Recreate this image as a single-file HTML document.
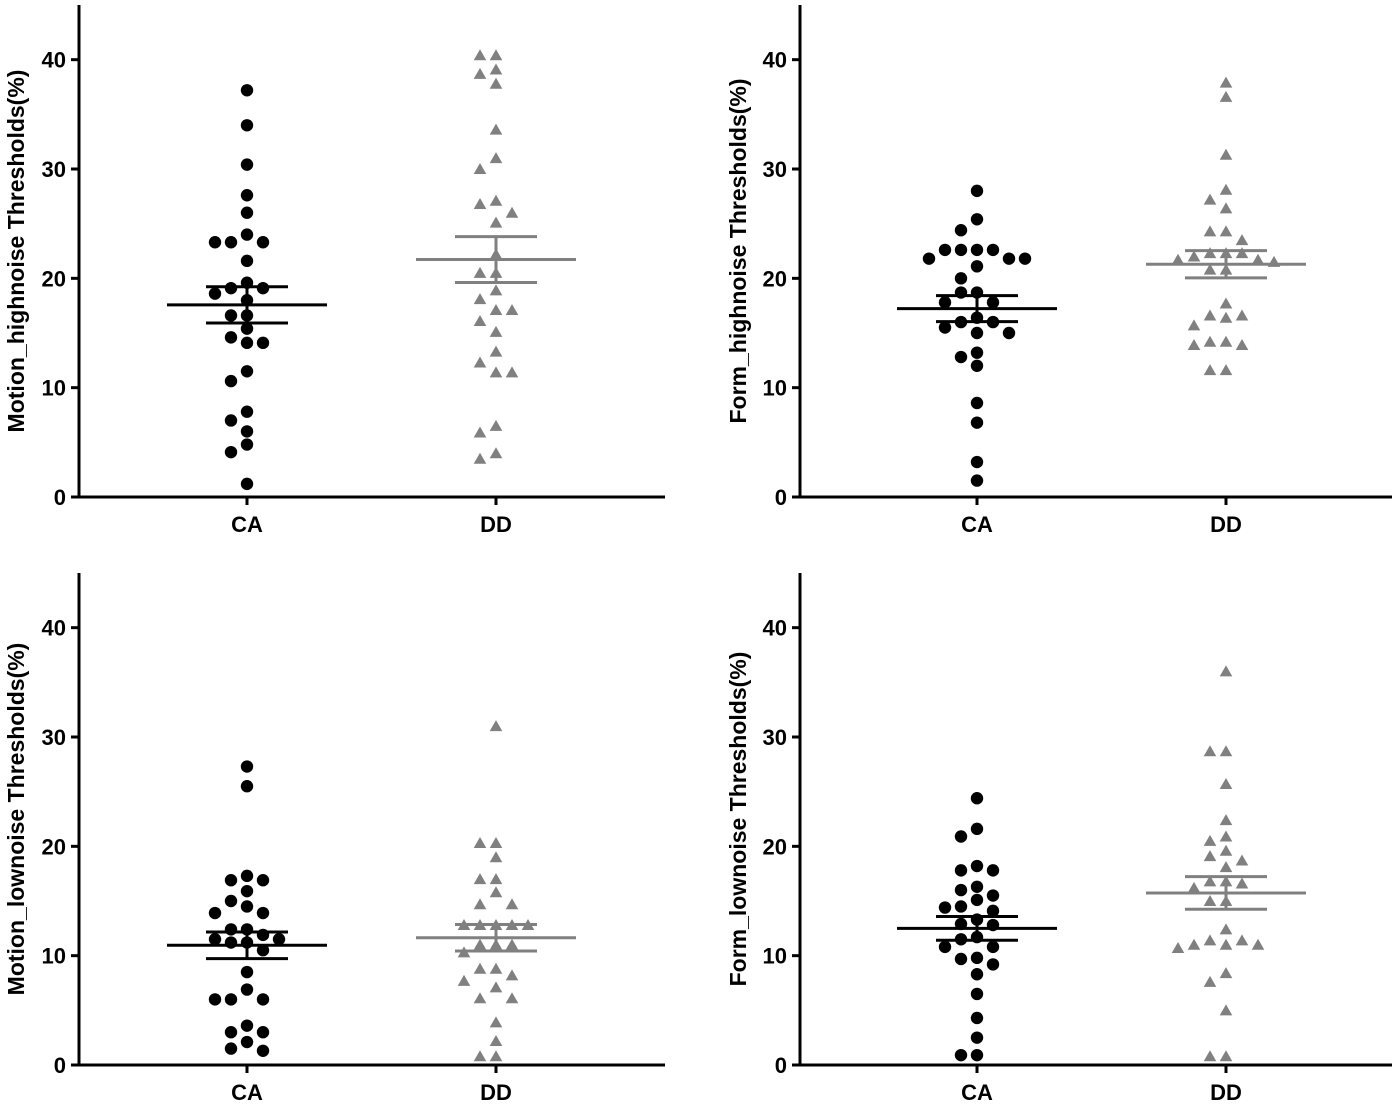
<!DOCTYPE html>
<html><head><meta charset="utf-8"><style>
html,body{margin:0;padding:0;background:#fff;}
svg{display:block;font-family:"Liberation Sans",Arial,sans-serif;}
</style></head><body>
<svg id="chart" width="1400" height="1108" viewBox="0 0 1400 1108"></svg>
<script>
const categories = ["CA", "DD"];
const yTicks = [0, 10, 20, 30, 40];
const panelTitles = ["Motion_highnoise Thresholds(%)", "Form_highnoise Thresholds(%)", "Motion_lownoise Thresholds(%)", "Form_lownoise Thresholds(%)"];

const motionHighCA = [37.2,34.0,30.4,27.6,26.0,24.0,23.3,23.3,23.3,21.6,19.6,19.1,19.1,18.6,18.0,16.6,16.6,15.4,14.6,14.1,14.1,11.5,10.6,7.8,7.0,6.0,4.8,4.1,1.2];
const motionHighDD = [40.4,40.4,39.1,38.7,37.8,33.6,31.0,30.0,27.1,26.8,26.0,25.1,22.2,20.5,20.5,18.9,18.1,17.1,17.1,16.1,15.1,13.3,12.3,11.4,11.4,6.5,5.9,4.0,3.5];
const formHighCA = [28.0,25.4,24.4,22.6,22.6,22.6,22.6,21.8,21.8,21.8,21.1,20.0,18.7,18.7,17.8,17.8,16.4,16.0,16.0,15.5,15.0,15.0,13.2,12.8,12.0,8.6,6.8,3.2,1.5];
const formHighDD = [37.9,36.6,31.3,28.1,27.2,26.4,24.3,24.3,23.5,22.3,22.3,22.3,22.0,21.7,21.7,21.5,20.8,20.8,17.7,16.6,16.6,16.4,15.7,14.2,14.2,13.9,13.9,11.6,11.6];
const motionLowCA = [27.3,25.5,17.3,16.9,16.9,15.9,15.0,14.5,13.9,13.9,12.4,12.4,11.9,11.5,11.5,11.2,11.2,10.5,8.5,6.9,6.0,6.0,6.0,3.6,3.0,3.0,2.1,1.5,1.3];
const motionLowDD = [31.0,20.3,20.3,19.0,17.0,17.0,15.8,14.7,14.7,12.8,12.8,12.8,12.8,12.8,11.0,11.0,11.0,10.3,8.8,8.8,8.2,7.7,7.1,6.1,6.1,3.9,2.2,0.8,0.8];
const formLowCA = [24.4,21.6,20.9,18.2,17.8,17.8,16.3,16.0,15.5,15.1,14.5,14.4,14.1,13.3,12.9,12.8,11.7,11.5,10.8,10.8,9.8,9.7,9.2,8.3,6.5,4.3,2.5,0.9,0.9];
const formLowDD = [36.0,28.7,28.7,25.7,22.4,20.9,20.5,19.6,19.1,18.7,18.1,16.8,16.8,16.6,16.2,15.0,15.0,12.4,11.4,11.4,11.0,11.0,11.0,10.7,8.4,7.6,5.0,0.8,0.8];

const panelSeries = [[motionHighCA, motionHighDD],[formHighCA, formHighDD],[motionLowCA, motionLowDD],[formLowCA, formLowDD]];

const NS = "http://www.w3.org/2000/svg";
const svg = document.getElementById("chart");
function mk(tag, attrs, parent){
  const e = document.createElementNS(NS, tag);
  for (const k in attrs) e.setAttribute(k, attrs[k]);
  (parent||svg).appendChild(e);
  return e;
}
const layouts = [
  {ax:79, x1:665, top:5, bottom:497, cx:[247,496], tx:24},
  {ax:800, x1:1392, top:5, bottom:497, cx:[977,1226], tx:746},
  {ax:79, x1:665, top:573, bottom:1065, cx:[247,496], tx:24},
  {ax:800, x1:1392, top:573, bottom:1065, cx:[977,1226], tx:746}
];
const colors = ["#000000", "#808080"];

function meanSem(a){
  const m = a.reduce((s,v)=>s+v,0)/a.length;
  const sd = Math.sqrt(a.reduce((s,v)=>s+(v-m)*(v-m),0)/(a.length-1));
  return [m, sd/Math.sqrt(a.length)];
}

layouts.forEach((L, pi) => {
  const g = mk("g", {});
  
  
  const y = v => L.bottom - (v/45)*(L.bottom - L.top);
  const ya = mk("line", {x1:L.ax, y1:L.top, x2:L.ax, y2:L.bottom+1.5, stroke:"#000", "stroke-width":3}, g);
  
  
  const xa = mk("line", {x1:L.ax-1.5, y1:L.bottom, x2:L.x1, y2:L.bottom, stroke:"#000", "stroke-width":3}, g);
  
  
  yTicks.forEach(t => {
    const tl = mk("line", {x1:L.ax-8, y1:y(t), x2:L.ax, y2:y(t), stroke:"#000", "stroke-width":3}, g);
    
    
    const tt = mk("text", {x:L.ax-13, y:y(t)+8, "text-anchor":"end", "font-size":22, "font-weight":"bold", fill:"#000"}, g);
    tt.textContent = t;
    
    
  });
  const title = mk("text", {x:0, y:0, transform:`translate(${L.tx},${(L.top+L.bottom)/2}) rotate(-90)`, "text-anchor":"middle", "font-size":23, "font-weight":"bold", fill:"#000"}, g);
  title.textContent = panelTitles[pi];
  
  
  categories.forEach((c, ci) => {
    const cx = L.cx[ci];
    const xt = mk("line", {x1:cx, y1:L.bottom, x2:cx, y2:L.bottom+8, stroke:"#000", "stroke-width":3}, g);
    
    
    const xl = mk("text", {x:cx, y:L.bottom+35, "text-anchor":"middle", "font-size":22, "font-weight":"bold", fill:"#000"}, g);
    xl.textContent = c;
    
    
    const data = panelSeries[pi][ci];
    const col = colors[ci];
    const placed = [];
    const sorted = data.slice().sort((a,b)=>b-a);
    sorted.forEach(v => {
      const py = y(v);
      let px = cx;
      for (let k = 0; k < 12; k++) {
        const off = (k===0?0:(k%2===1?-1:1)*Math.ceil(k/2)) * 16;
        const test = cx + off;
        if (placed.every(p => Math.hypot(p[0]-test, p[1]-py) >= 13)) { px = test; break; }
      }
      placed.push([px, py]);
      let m;
      if (ci === 0) {
        m = mk("circle", {cx:px, cy:py, r:6.2, fill:col}, g);
      } else {
        m = mk("polygon", {points:`${px-6.3},${py+5} ${px+6.3},${py+5} ${px},${py-6}`, fill:col}, g);
      }
      
      
    });
    const [mean, sem] = meanSem(data);
    const ml = mk("line", {x1:cx-80, y1:y(mean), x2:cx+80, y2:y(mean), stroke:col, "stroke-width":3}, g);
    
    
    const el = mk("line", {x1:cx, y1:y(mean+sem), x2:cx, y2:y(mean-sem), stroke:col, "stroke-width":3}, g);
    
    
    [mean+sem, mean-sem].forEach(v => {
      const cap = mk("line", {x1:cx-41, y1:y(v), x2:cx+41, y2:y(v), stroke:col, "stroke-width":3}, g);
      
      
    });
  });
});
</script>
</body></html>
